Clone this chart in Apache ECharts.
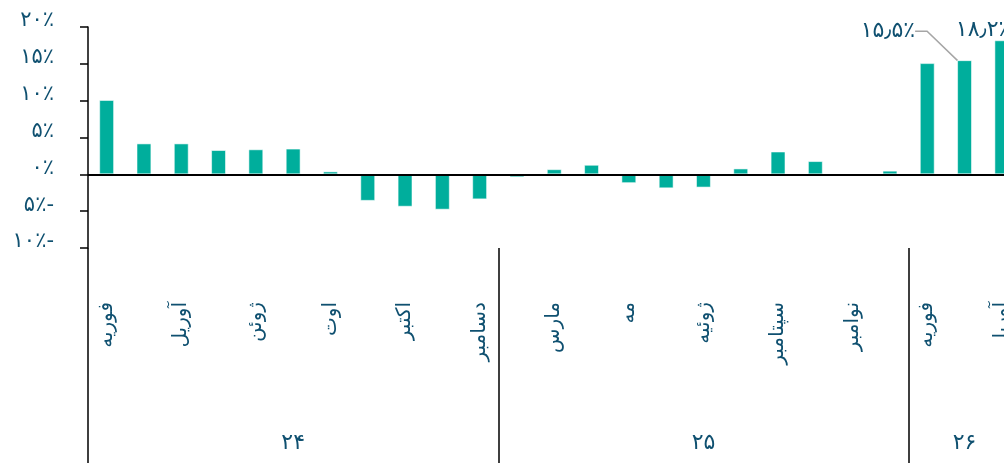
<!DOCTYPE html>
<html>
<head>
<meta charset="utf-8">
<script src="https://cdn.jsdelivr.net/npm/echarts@6/dist/echarts.min.js"></script>
<style>
  html, body { margin: 0; padding: 0; background: #fff; }
  #chart { width: 1004px; height: 463px; }
</style>
</head>
<body>
<div id="chart"></div>
<script>
// Monthly year-on-year change (January is reported together with February)
const months = [
  'فوریه', 'مارس', 'آوریل', 'مه', 'ژوئن', 'ژوئیه', 'اوت', 'سپتامبر', 'اکتبر', 'نوامبر', 'دسامبر',
  'فوریه', 'مارس', 'آوریل', 'مه', 'ژوئن', 'ژوئیه', 'اوت', 'سپتامبر', 'اکتبر', 'نوامبر', 'دسامبر',
  'فوریه', 'مارس', 'آوریل'
];
const years = ['۲۴', '۲۵', '۲۶'];
const monthsPerYear = [11, 11, 3];
const growth = [
  10.1, 4.2, 4.2, 3.3, 3.4, 3.5, 0.4, -3.6, -4.4, -4.8, -3.4,
  -0.4, 0.7, 1.3, -1.2, -1.9, -1.8, 0.8, 3.1, 1.8, 0.0, 0.5,
  15.1, 15.5, 18.2
];
const labelledIndices = [23, 24];
const yMin = -10;
const yMax = 20;
const yStep = 5;

const TEXT = '#0F5070';
const BAR = '#00AE9C';
const FONT = 'DejaVu Sans';

const faDigits = '۰۱۲۳۴۵۶۷۸۹';
function toFa(s) {
  return String(s).replace(/[0-9]/g, d => faDigits[+d]).replace('.', '٫');
}

// Year group boundaries and the category at the middle of each group
const yearStarts = [];
const yearCenters = {};
let acc = 0;
monthsPerYear.forEach((n, i) => {
  yearStarts.push(acc);
  yearCenters[acc + Math.floor(n / 2)] = years[i];
  acc += n;
});

const barData = growth.map((v, i) => {
  const item = { value: v };
  if (labelledIndices.includes(i)) {
    item.label = { show: true };
    if (i === 23) {
      item.label.padding = [0, 8, 0, 0];
      item.labelLine = { show: true };
    }
  }
  return item;
});

const chart = echarts.init(document.getElementById('chart'), null, { renderer: 'canvas' });
chart.setOption({
  animation: false,
  backgroundColor: '#ffffff',
  grid: {
    left: 88, top: 27, width: 932.5, height: 221,
    outerBoundsMode: 'none', containLabel: false
  },
  xAxis: [
    {
      type: 'category',
      position: 'bottom',
      data: months,
      axisLine: { show: false, onZero: false },
      axisTick: { show: false },
      axisLabel: {
        interval: 1,
        rotate: 90,
        margin: 54,
        color: TEXT,
        fontFamily: FONT,
        fontSize: 20
      },
      splitLine: { show: false }
    },
    {
      type: 'category',
      position: 'bottom',
      data: months,
      axisLine: { show: false, onZero: false },
      axisTick: {
        show: true,
        length: 240,
        interval: (i) => yearStarts.includes(i) || i === months.length,
        lineStyle: { color: '#000', width: 1.5 }
      },
      axisLabel: {
        interval: (i) => yearCenters[i] !== undefined,
        formatter: (value, i) => yearCenters[i] || '',
        margin: 184,
        color: TEXT,
        fontFamily: FONT,
        fontSize: 22
      },
      splitLine: { show: false }
    }
  ],
  yAxis: {
    type: 'value',
    min: yMin,
    max: yMax,
    interval: yStep,
    axisLine: { show: true, lineStyle: { color: '#000', width: 1.5 } },
    axisTick: { show: true, inside: false, length: 8, lineStyle: { color: '#000', width: 1.5 } },
    splitLine: { show: false },
    axisLabel: {
      margin: 34,
      color: TEXT,
      fontFamily: FONT,
      fontSize: 21,
      verticalAlign: 'bottom',
      lineHeight: 12,
      formatter: (v) => (v < 0 ? toFa(-v) + '٪-' : toFa(v) + '٪')
    }
  },
  series: [
    {
      type: 'bar',
      xAxisIndex: 0,
      yAxisIndex: 0,
      data: barData,
      barCategoryGap: '60%',
      itemStyle: { color: BAR, borderColor: 'rgba(255,255,255,0.55)', borderWidth: 1 },
      label: {
        show: false,
        position: 'top',
        color: TEXT,
        fontFamily: FONT,
        fontSize: 22,
        formatter: (p) => toFa(p.value.toFixed(1)) + '٪'
      },
      labelLine: {
        show: false,
        length2: 12,
        lineStyle: { color: '#A6A6A6', width: 1.5 }
      },
      labelLayout: (params) => {
        const r = params.rect;
        if (params.dataIndex === 23) {
          return { x: r.x - 34, y: r.y - 29, align: 'right', verticalAlign: 'middle' };
        }
        if (params.dataIndex === 24) {
          return { x: r.x + r.width / 2 - 46, y: r.y - 10, align: 'left', verticalAlign: 'middle' };
        }
        return {};
      },
      markLine: {
        silent: true,
        symbol: ['none', 'none'],
        label: { show: false },
        lineStyle: { color: '#000', width: 2, type: 'solid' },
        emphasis: { disabled: true },
        data: [{ yAxis: 0 }]
      }
    }
  ]
});
</script>
</body>
</html>
